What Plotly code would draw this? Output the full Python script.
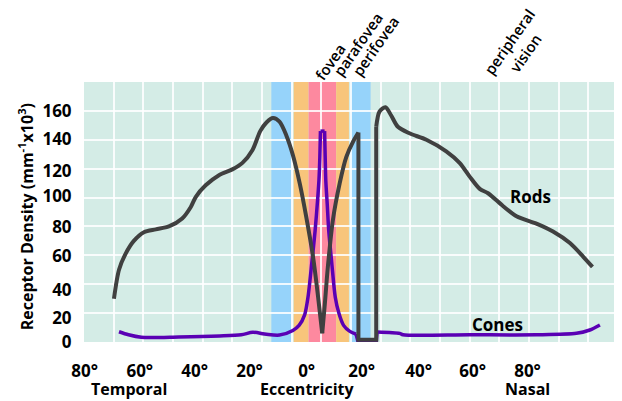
import plotly.graph_objects as go

# ---------------- data ----------------
rods_x = [-69.9, -68.2, -66.0, -63.2, -59.8, -55.8, -51.4, -46.9, -44.0, -42.3, -39.0, -34.5,
          -30.0, -26.6, -23.2, -20.6, -18.5, -16.3, -14.1, -11.8, -9.6, -7.3, -5.1, -2.8, -1.1,
          0.3, 1.1, 2.2, 3.9, 6.2, 8.4, 10.7, 12.5, 12.5, 18.5, 18.5, 19.6, 21.6, 23.5, 25.8,
          29.7, 35.4, 42.1, 46.6, 50.0, 53.4, 56.2, 61.3, 65.8, 72.5, 78.1, 83.8, 88.3, 91.4]
rods_y = [30, 50, 61, 70, 76, 78, 80, 85.5, 93.5, 100.5, 108.5, 115.5,
          119.5, 124, 133, 146, 152, 155, 152.5, 143, 129.5, 110, 86.8, 59, 31.4,
          6, 24.5, 52, 84.5, 110, 128, 138.7, 145, 1.5, 1.5, 149, 159.5, 162.5, 157, 149,
          144.5, 140, 132, 124, 114.5, 106, 103, 94, 87, 82, 76.5, 68.5, 59, 52]

cones_x = [-68.2, -65.0, -60.7, -48.0, -34.3, -27.0, -23.1, -18.5, -14.1, -9.6, -7.5, -5.6,
           -4.5, -3.2, -2.1, -1.2, -0.8, -0.5, -0.3, 1.1, 1.3, 1.5, 2.0, 2.5, 3.5, 4.7, 5.9,
           7.5, 9.5, 11.7, 12.4, 18.5, 18.8, 26.4, 27.5, 50.0, 72.5, 86.0, 90.5, 93.9]
cones_y = [7.1, 5, 3.3, 3.5, 4.2, 5, 6.7, 5.3, 4.8, 8, 11.5, 19,
           31, 55, 77, 100, 112, 128, 146, 146, 128, 112, 95, 77, 55, 31, 20,
           11.5, 7.5, 5.5, 0, 0, 7, 6, 5, 5, 5, 6, 8.3, 11.8]

# piecewise drawing of each curve: (first index, last index, line shape)
rods_pieces = [(0, 25, "spline"), (25, 32, "spline"), (32, 35, "linear"), (35, 53, "spline")]
cones_pieces = [(0, 18, "spline"), (18, 19, "linear"), (19, 29, "spline"),
                (29, 32, "linear"), (32, 39, "spline")]

# retinal zones (start, end in degrees)
zone_names = ["perifovea", "parafovea", "fovea", "parafovea", "perifovea"]
zone_start = [-16.85, -9.3, -4.3, 5.0, 9.8]
zone_end = [-10.0, -4.3, 5.0, 9.3, 16.6]
zone_colors = {"perifovea": "#96d3fa", "parafovea": "#f8c57b", "fovea": "#fd899f"}

x_tick_vals = [-79.8, -61.2, -42.7, -24.2, -4.95, 13.6, 32.8, 51.0, 69.5]
x_tick_text = ["80°", "60°", "40°", "20°", "0°", "20°", "40°", "60°", "80°"]
y_tick_vals = [0, 16.7, 36.2, 59.6, 79.3, 101.0, 118.3, 140.2, 159.8]
y_tick_text = ["0", "20", "40", "60", "80", "100", "120", "140", "160"]

FONT = "Open Sans"

fig = go.Figure()


def add_curve(xs, ys, pieces, color, width, name):
    for a, b, shp in pieces:
        fig.add_trace(go.Scatter(x=xs[a:b + 1], y=ys[a:b + 1], mode="lines",
                                 line=dict(color=color, width=width, shape=shp,
                                           smoothing=0.8 if shp == "spline" else None),
                                 showlegend=False, name=name, hoverinfo="skip"))


add_curve(cones_x, cones_y, cones_pieces, "#5a00b4", 3.5, "Cones")
add_curve(rods_x, rods_y, rods_pieces, "#404040", 4, "Rods")

shapes = []
for nm, s, e in zip(zone_names, zone_start, zone_end):
    shapes.append(dict(type="rect", xref="x", yref="paper", x0=s, x1=e, y0=0, y1=1,
                       fillcolor=zone_colors[nm], line=dict(width=0), layer="below"))

bold = dict(family=FONT, size=16, color="black", weight="bold")
annotations = [
    dict(text="Rods", x=70.4, y=100.6, xref="x", yref="y", showarrow=False,
         font=dict(family=FONT, size=17, color="black", weight="bold")),
    dict(text="Cones", x=59.5, y=11.8, xref="x", yref="y", showarrow=False,
         font=dict(family=FONT, size=17, color="black", weight="bold")),
    dict(text="Temporal", x=-65.0, y=-0.181, xref="x", yref="paper", showarrow=False,
         font=bold, yanchor="middle"),
    dict(text="Eccentricity", x=-4.5, y=-0.181, xref="x", yref="paper", showarrow=False,
         font=bold, yanchor="middle"),
    dict(text="Nasal", x=69.5, y=-0.181, xref="x", yref="paper", showarrow=False,
         font=bold, yanchor="middle"),
    dict(text="Receptor Density (mm<sup>-1</sup>x10<sup>3</sup>)", x=0, xshift=-58,
         y=0.48, xref="paper", yref="paper", showarrow=False, textangle=-90,
         font=bold, xanchor="center", yanchor="middle"),
]
top_font = dict(family=FONT, size=15, color="black", weight=600)
for txt, xv, yv in [("fovea", 2.8, 1.078), ("parafovea", 12.3, 1.147),
                    ("perifovea", 18.2, 1.139), ("peripheral<br>vision", 66.3, 1.133)]:
    annotations.append(dict(text=txt, x=xv, y=yv, xref="x", yref="paper", showarrow=False,
                            textangle=-55, font=top_font, xanchor="center",
                            yanchor="middle"))

# the page body adds an 8px offset, margins compensate for it
fig.update_layout(
    width=622, height=401,
    margin=dict(l=76, r=12, t=74, b=67),
    paper_bgcolor="white",
    plot_bgcolor="#d4ece6",
    shapes=shapes,
    annotations=annotations,
    showlegend=False,
    xaxis=dict(range=[-80, 100], tickmode="array", tickvals=x_tick_vals,
               ticktext=x_tick_text, showgrid=False, zeroline=False,
               ticks="outside", ticklen=14, tickcolor="rgba(0,0,0,0)",
               tickfont=dict(family=FONT, size=17, color="black", weight="bold"),
               minor=dict(showgrid=True, dtick=10, tick0=0,
                          gridcolor="rgba(255,255,255,0.85)", gridwidth=2),
               showline=False, fixedrange=True),
    yaxis=dict(range=[0, 180], tickmode="array", tickvals=y_tick_vals,
               ticktext=y_tick_text, showgrid=False, zeroline=False,
               ticks="outside", ticklen=8, tickcolor="rgba(0,0,0,0)",
               tickfont=dict(family=FONT, size=17, color="black", weight="bold"),
               minor=dict(showgrid=True, dtick=20, tick0=0,
                          gridcolor="rgba(255,255,255,0.85)", gridwidth=2),
               showline=False, fixedrange=True),
)

fig.write_html("out.html")
